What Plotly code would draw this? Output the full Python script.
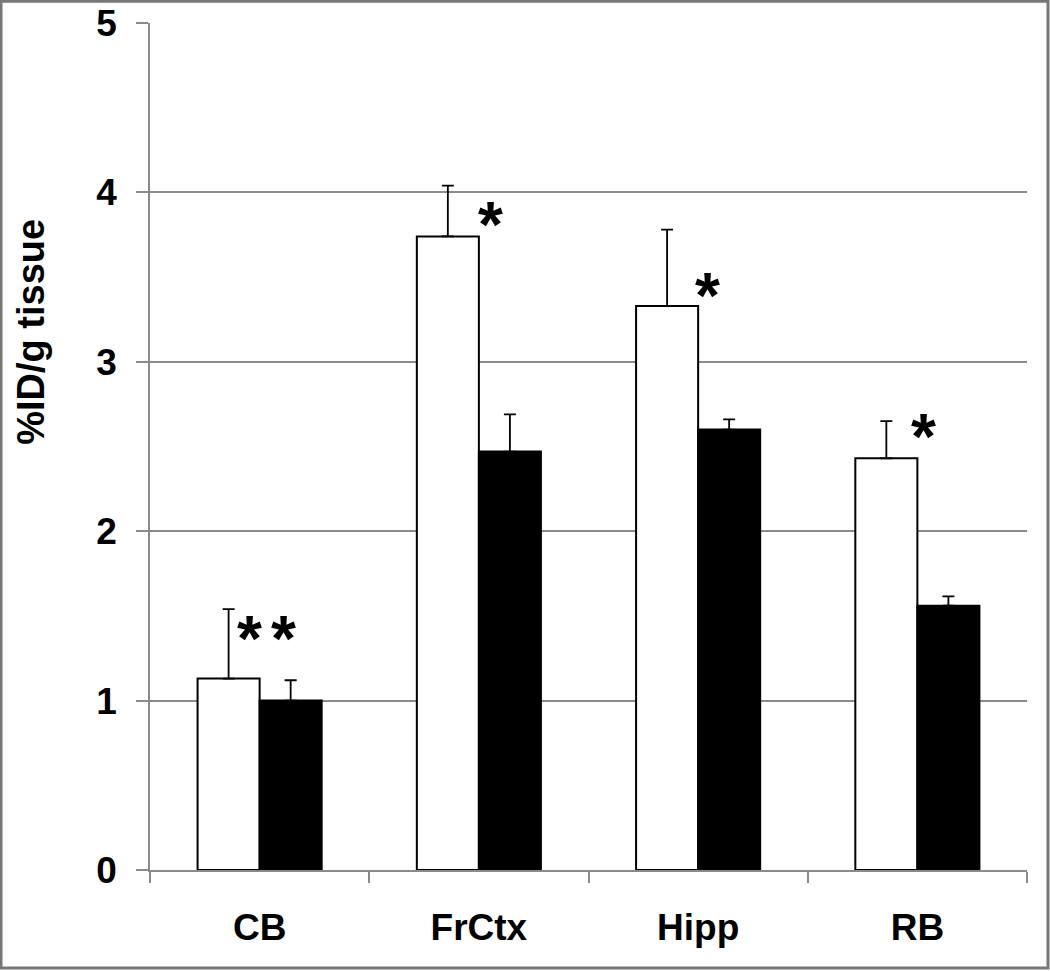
import plotly.graph_objects as go

categories = ["CB", "FrCtx", "Hipp", "RB"]
white_vals = [1.13, 3.74, 3.33, 2.43]
white_err = [0.41, 0.30, 0.45, 0.22]
black_vals = [1.00, 2.47, 2.60, 1.56]
black_err = [0.12, 0.22, 0.06, 0.055]
y_ticks = [0, 1, 2, 3, 4, 5]
sig_labels = ["*", "*", "*", "*", "*"]
sig_cat = [0, 0, 1, 2, 3]
sig_dx = [-0.048, 0.107, 0.055, 0.042, 0.027]
sig_y = [1.415, 1.415, 3.862, 3.44, 2.612]

FONT = "Liberation Sans, Arial, Helvetica, sans-serif"
GRID = "#8a8a8a"

fig = go.Figure()
fig.add_trace(go.Bar(
    x=categories, y=white_vals, name="white",
    marker=dict(color="white", line=dict(color="black", width=2)),
    error_y=dict(type="data", array=white_err, arrayminus=[0]*4, symmetric=False,
                 color="black", thickness=1.8, width=6),
))
fig.add_trace(go.Bar(
    x=categories, y=black_vals, name="black",
    marker=dict(color="black", line=dict(color="black", width=2)),
    error_y=dict(type="data", array=black_err, arrayminus=[0]*4, symmetric=False,
                 color="black", thickness=1.8, width=6),
))

for lab, c, dx, yy in zip(sig_labels, sig_cat, sig_dx, sig_y):
    fig.add_annotation(x=c + dx, y=yy, xref="x", yref="y", text="<b>" + lab + "</b>",
                       showarrow=False, xanchor="center", yanchor="middle",
                       yshift=-9,
                       font=dict(family=FONT, size=64, color="black"))

fig.add_annotation(x=-0.135, y=0.635, xref="paper", yref="paper",
                   text="<b>%ID/g tissue</b>", textangle=-90, showarrow=False,
                   xanchor="center", yanchor="middle",
                   font=dict(family=FONT, size=38, color="black"))

# outer border
fig.add_shape(type="rect", xref="paper", yref="paper",
              x0=(1 - 150) / 877, x1=(1048 - 150) / 877,
              y0=(870 - 968) / 847.3, y1=(870 - 1) / 847.3,
              line=dict(color="#777777", width=3), fillcolor="rgba(0,0,0,0)")

fig.update_layout(
    width=1050, height=971,
    margin=dict(l=150, r=23, t=23, b=101, autoexpand=False),
    paper_bgcolor="white", plot_bgcolor="white",
    barmode="group", bargap=0.434, bargroupgap=0,
    showlegend=False,
    font=dict(family=FONT, color="black"),
)
fig.update_xaxes(
    type="category", automargin=False,
    showline=True, linecolor=GRID, linewidth=1.5,
    ticks="outside", tickson="boundaries", ticklen=11, tickcolor=GRID, tickwidth=1.5,
    tickfont=dict(family=FONT, size=37, color="black"),
    ticklabelstandoff=24,
    showgrid=False,
    tickprefix="<b>", ticksuffix="</b>",
)
fig.update_yaxes(
    range=[0, 5], tickvals=y_ticks, automargin=False,
    ticktext=["<b>%d</b>" % v for v in y_ticks],
    showline=True, linecolor=GRID, linewidth=1.5,
    ticks="outside", ticklen=12, tickcolor=GRID, tickwidth=1.5,
    showgrid=True, gridcolor=GRID, gridwidth=1.5,
    zeroline=False,
    tickfont=dict(family=FONT, size=37, color="black"),
    ticklabelstandoff=12,
)

fig.write_html("out.html", config={"displayModeBar": False},
               post_script="document.body.style.margin='0px';")
